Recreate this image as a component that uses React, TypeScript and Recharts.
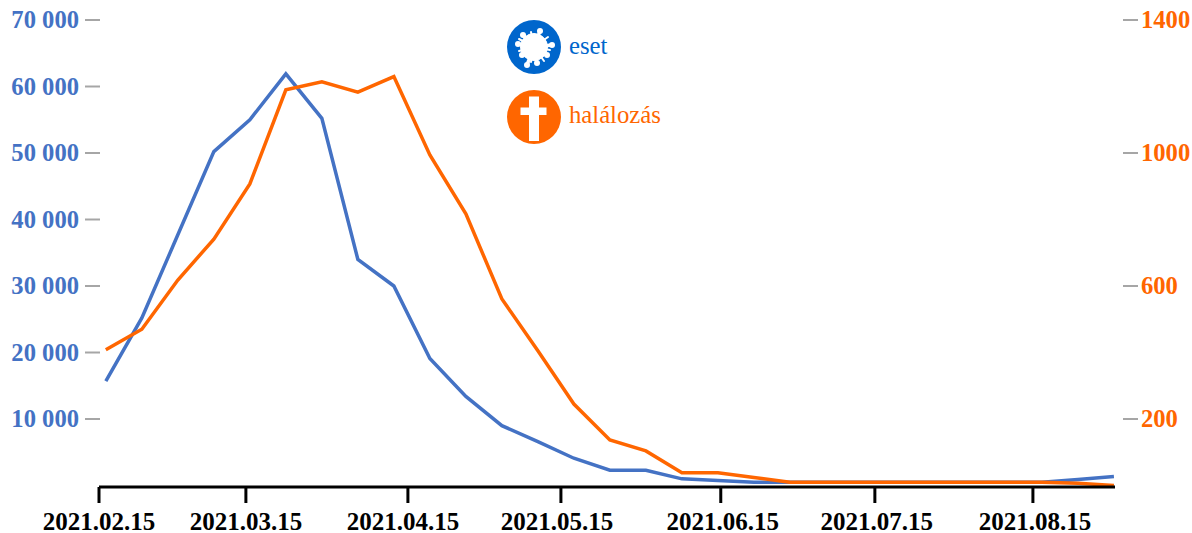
import { LineChart, Line, XAxis, YAxis, Legend } from "recharts";

const weeks = [
  0, 1, 2, 3, 4, 5, 6, 7, 8, 9, 10, 11, 12, 13, 14, 15, 16, 17, 18, 19, 20, 21,
  22, 23, 24, 25, 26, 27, 28,
];
const cases = [
  15700, 25200, 37700, 50200, 55000, 61900, 55200, 34000, 30000, 19100, 13400,
  9000, 6600, 4100, 2300, 2300, 1000, 750, 500, 500, 500, 500, 500, 500, 500,
  500, 500, 900, 1350,
];
const deaths = [
  408, 470, 618, 741, 907, 1190, 1214, 1183, 1230, 994, 817, 561, 405, 245, 137,
  104, 38, 38, 24, 10, 10, 10, 10, 10, 10, 10, 10, 7, 0,
];
const dateTicks = [-0.19, 3.89, 8.39, 12.64, 17.08, 21.36, 25.75];
const dateLabels = [
  "2021.02.15",
  "2021.03.15",
  "2021.04.15",
  "2021.05.15",
  "2021.06.15",
  "2021.07.15",
  "2021.08.15",
];
const caseTicks = [10000, 20000, 30000, 40000, 50000, 60000, 70000];
const deathTicks = [200, 600, 1000, 1400];

const BLUE = "#4472C4";
const ORANGE = "#FF6600";
const LEGEND_BLUE = "#0066CC";
const GREY = "#A6A6A6";
const FONT = '"Liberation Serif", serif';

// the date labels don't sit exactly under their ticks in the original
const labelNudge = [0, 0, -5, -4, 2, 2, 2];

const data = weeks.map((week, i) => ({
  week,
  eset: cases[i],
  halalozas: deaths[i],
}));

const fmtThousands = (v: number) =>
  String(v).replace(/\B(?=(\d{3})+$)/g, " ");

function DateTick({ x, y, payload }: any) {
  const i = dateTicks.indexOf(payload.value);
  return (
    <text
      x={x + labelNudge[i]}
      y={530}
      textAnchor="middle"
      fontFamily={FONT}
      fontWeight="bold"
      fontSize={25}
      fill="#000"
    >
      {dateLabels[i]}
    </text>
  );
}

function LeftTick({ x, y, payload }: any) {
  return (
    <g>
      <line x1={x - 14} x2={x + 1} y1={y} y2={y} stroke={GREY} strokeWidth={2} />
      <text
        x={x - 20}
        y={y}
        dy={8}
        textAnchor="end"
        fontFamily={FONT}
        fontWeight="bold"
        fontSize={24.6}
        fill={BLUE}
      >
        {fmtThousands(payload.value)}
      </text>
    </g>
  );
}

function RightTick({ x, y, payload }: any) {
  return (
    <g>
      <line x1={x + 8} x2={x + 23} y1={y} y2={y} stroke={GREY} strokeWidth={2} />
      <text
        x={x + 26}
        y={y}
        dy={8}
        textAnchor="start"
        fontFamily={FONT}
        fontWeight="bold"
        fontSize={24.6}
        fill={ORANGE}
      >
        {payload.value}
      </text>
    </g>
  );
}

const virusBalls = [
  [-11, -12], [6, -16], [18, -2], [13, 8], [3, 16], [-7, 18], [-12, 8], [-16, -3],
];
const virusNubs = [
  [-3, -15], [14, -10], [16, 3], [10, 14], [-3, 15], [-15, 4], [-15, -8],
];

function LegendIcons() {
  return (
    <svg width={190} height={150} style={{ display: "block" }}>
      <circle cx={44} cy={42} r={27} fill={LEGEND_BLUE} />
      <g transform="translate(44 42)" fill="#fff" stroke="#fff">
        <circle r={13.5} />
        {virusBalls.map(([bx, by], i) => (
          <g key={i}>
            <line x1={0} y1={0} x2={bx} y2={by} strokeWidth={3.5} />
            <circle cx={bx} cy={by} r={3} stroke="none" />
          </g>
        ))}
        {virusNubs.map(([bx, by], i) => (
          <line key={i} x1={0} y1={0} x2={bx} y2={by} strokeWidth={2} strokeLinecap="round" />
        ))}
      </g>
      <text x={79} y={49} fontFamily={FONT} fontSize={24.7} fill={LEGEND_BLUE}>
        eset
      </text>
      <circle cx={44} cy={112} r={27} fill={ORANGE} />
      <rect x={39} y={91.5} width={10} height={44.5} fill="#fff" />
      <rect x={30.5} y={102.5} width={26} height={7.5} fill="#fff" />
      <text x={79} y={118} fontFamily={FONT} fontSize={24.7} fill={ORANGE}>
        halálozás
      </text>
    </svg>
  );
}

export default function App() {
  return (
    <div style={{ position: "absolute", left: 0, top: 0, width: 1192, height: 533 }}>
      <LineChart
        width={1192}
        height={533}
        data={data}
        margin={{ top: 20, right: 0, bottom: 0, left: 0 }}
      >
        <XAxis
          dataKey="week"
          type="number"
          domain={[-0.19, 28.03]}
          ticks={dateTicks}
          height={46}
          interval={0}
          axisLine={{ stroke: "#000", strokeWidth: 3 }}
          tickLine={{ stroke: "#000", strokeWidth: 3 }}
          tickSize={16}
          tick={DateTick}
        />
        <YAxis
          yAxisId="left"
          orientation="left"
          width={99}
          domain={[-225, 70000]}
          ticks={caseTicks}
          interval={0}
          axisLine={false}
          tickLine={false}
          tickSize={0}
          tickMargin={0}
          tick={LeftTick}
        />
        <YAxis
          yAxisId="right"
          orientation="right"
          width={77}
          domain={[-4.5, 1400]}
          ticks={deathTicks}
          interval={0}
          axisLine={false}
          tickLine={false}
          tickSize={0}
          tickMargin={0}
          tick={RightTick}
        />
        <Legend
          layout="vertical"
          align="center"
          verticalAlign="middle"
          wrapperStyle={{ left: 490, top: 5, width: 190, height: 150 }}
          content={() => <LegendIcons />}
        />
        <Line
          yAxisId="left"
          dataKey="eset"
          stroke={BLUE}
          strokeWidth={3.5}
          dot={false}
          activeDot={false}
          isAnimationActive={false}
        />
        <Line
          yAxisId="right"
          dataKey="halalozas"
          stroke={ORANGE}
          strokeWidth={3.5}
          dot={false}
          activeDot={false}
          isAnimationActive={false}
        />
      </LineChart>
    </div>
  );
}
